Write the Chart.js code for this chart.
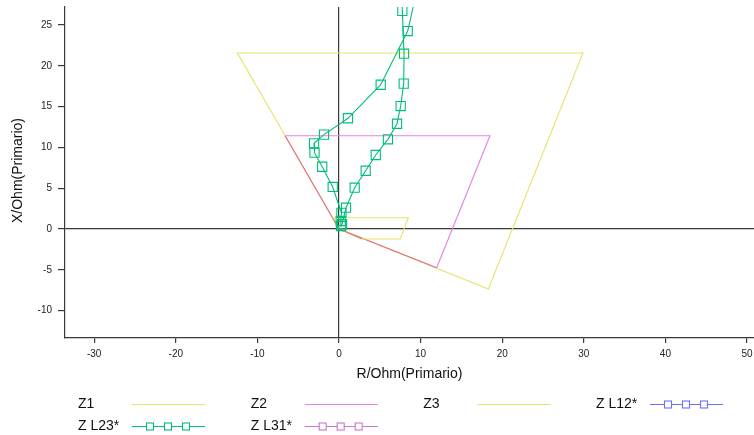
<!DOCTYPE html>
<html>
<head>
<meta charset="utf-8">
<script src="https://cdn.jsdelivr.net/npm/chart.js@4/dist/chart.umd.min.js"></script>
<style>
  html, body { margin: 0; padding: 0; background: #fff; }
  #wrap { width: 754px; height: 435px; }
</style>
</head>
<body>
<div id="wrap"><canvas id="c" width="754" height="435"></canvas></div>
<script>
// ---- Data (R / X in Ohm primary) ----
const z1R = [0, -0.8, 8.5, 7.5, 2.78, 0];
const z1X = [0, 1.38, 1.38, -1.22, -1.22, 0];

const z2R = [0, -6.6, 18.5, 11.97, 0];
const z2X = [0, 11.43, 11.43, -4.74, 0];

const z3R = [0, -12.45, 29.9, 18.3, 0];
const z3X = [0, 21.57, 21.57, -7.35, 0];

const l23R = [9.5, 8.42, 5.11, 1.10, -1.84, -3.06, -3.00, -2.06, -0.77, 0.30, 0.21, 0.25,
              0.37, 0.86, 1.92, 3.27, 4.50, 6.00, 7.11, 7.56, 7.93, 7.97, 7.76, 7.5];
const l23X = [29.0, 24.26, 17.68, 13.57, 11.56, 10.50, 9.35, 7.63, 5.15, 1.98, 0.98, 0.37,
              0.58, 2.61, 5.06, 7.14, 9.07, 10.99, 12.90, 15.07, 17.81, 21.48, 26.72, 31.5];

const l12R = [];
const l12X = [];
const l31R = [];
const l31X = [];

const seriesLabels = ['Z1', 'Z2', 'Z3', 'Z L12*', 'Z L23*', 'Z L31*'];
const xTickValues = [-30, -20, -10, 0, 10, 20, 30, 40, 50];
const yTickValues = [-10, -5, 0, 5, 10, 15, 20, 25];
const xTitle = 'R/Ohm(Primario)';
const yTitle = 'X/Ohm(Primario)';

const pts = (r, x) => r.map((v, i) => ({ x: v, y: x[i] }));

const YELLOW = 'rgb(232,226,104)';
const MAGENTA = 'rgb(232,128,232)';
const RED = 'rgb(226,104,140)';
const ORANGE = 'rgb(222,150,84)';
const BLUE = 'rgb(110,110,255)';
const GREEN = 'rgb(0,190,120)';
const PURPLE = 'rgb(200,120,200)';
const AXIS = '#3a3a3a';

const tickFont = { family: '"Liberation Sans Narrow", "Arial Narrow", "Liberation Sans", Arial, sans-serif', size: 10 };

const datasets = [
  { label: seriesLabels[0], data: pts(z1R, z1X), borderColor: YELLOW, order: 3,
    segment: { borderColor: c => (c.p0DataIndex === 0 || c.p0DataIndex === 4) ? ORANGE : YELLOW },
    legendKind: 'line' },
  { label: seriesLabels[1], data: pts(z2R, z2X), borderColor: MAGENTA, order: 4,
    segment: { borderColor: c => (c.p0DataIndex === 0 || c.p0DataIndex === 3) ? RED : MAGENTA },
    legendKind: 'line' },
  { label: seriesLabels[2], data: pts(z3R, z3X), borderColor: YELLOW, order: 5, legendKind: 'line' },
  { label: seriesLabels[3], data: pts(l12R, l12X), borderColor: BLUE, order: 2, pointStyle: 'rect',
    pointRadius: 6.5, legendKind: 'marker' },
  { label: seriesLabels[4], data: pts(l23R, l23X), borderColor: GREEN, order: 0, pointStyle: 'rect',
    pointRadius: 6.5, legendKind: 'marker' },
  { label: seriesLabels[5], data: pts(l31R, l31X), borderColor: PURPLE, order: 1, pointStyle: 'rect',
    pointRadius: 6.5, legendKind: 'marker' }
];
datasets.forEach(d => {
  d.showLine = true;
  d.borderWidth = 1.1;
  d.backgroundColor = 'rgba(0,0,0,0)';
  d.pointBorderColor = d.borderColor;
  d.pointBackgroundColor = 'rgba(255,255,255,0)';
  d.pointBorderWidth = 1.1;
  if (!d.pointRadius) d.pointRadius = 0;
  d.pointHoverRadius = d.pointRadius;
  d.tension = 0;
});

const decorPlugin = {
  id: 'decor',
  afterDraw(chart) {
    const ctx = chart.ctx;
    const area = chart.chartArea;
    ctx.save();
    // axis titles
    ctx.fillStyle = '#111';
    ctx.font = '14px "Liberation Sans", Arial, sans-serif';
    ctx.textAlign = 'center';
    ctx.textBaseline = 'middle';
    ctx.fillText(xTitle, (area.left + area.right) / 2, 374);
    ctx.save();
    ctx.translate(18.5, 170.5);
    ctx.rotate(-Math.PI / 2);
    ctx.fillText(yTitle, 0, 0);
    ctx.restore();

    // legend
    const colX = [78, 250.7, 423.3, 596];
    const rowY = [404, 426];
    ctx.textAlign = 'left';
    chart.data.datasets.forEach((d, i) => {
      const col = i % 4, row = Math.floor(i / 4);
      const x = colX[col], y = rowY[row];
      ctx.fillStyle = '#111';
      ctx.fillText(d.label, x, y);
      const lx0 = x + 54, lx1 = x + 127;
      ctx.strokeStyle = d.borderColor;
      ctx.lineWidth = 1.1;
      ctx.beginPath();
      ctx.moveTo(lx0, y + 0.5);
      ctx.lineTo(lx1, y + 0.5);
      ctx.stroke();
      if (d.legendKind === 'marker') {
        [18, 36, 54].forEach(o => {
          ctx.fillStyle = '#fff';
          ctx.fillRect(lx0 + o - 3.5, y - 3, 7, 7);
          ctx.strokeRect(lx0 + o - 3.5, y - 3, 7, 7);
        });
      }
    });
    ctx.restore();
  }
};

new Chart(document.getElementById('c'), {
  type: 'scatter',
  data: { datasets },
  plugins: [decorPlugin],
  options: {
    responsive: false,
    animation: false,
    devicePixelRatio: 1,
    layout: { autoPadding: false, padding: { top: 7, right: 0, bottom: 52, left: 0 } },
    plugins: { legend: { display: false }, tooltip: { enabled: false } },
    scales: {
      x: {
        type: 'linear',
        min: -(339 - 65) / 8.16,
        max: (754 - 339) / 8.16,
        afterFit: s => { s.height = 45; s.paddingLeft = 0; s.paddingRight = 0; },
        afterBuildTicks: s => { s.ticks = xTickValues.map(v => ({ value: v })); },
        ticks: { font: tickFont, color: '#222', padding: 5, maxRotation: 0, autoSkip: false, includeBounds: false },
        grid: {
          color: c => (c.tick && c.tick.value === 0) ? AXIS : 'rgba(0,0,0,0)',
          tickColor: AXIS, tickLength: 5, lineWidth: 1.2, drawOnChartArea: true
        },
        border: { display: true, color: AXIS, width: 1.2 }
      },
      y: {
        type: 'linear',
        min: -(338 - 229) / 8.16,
        max: (229 - 7) / 8.16,
        afterFit: s => { s.width = 65; s.paddingTop = 0; s.paddingBottom = 0; },
        afterBuildTicks: s => { s.ticks = yTickValues.map(v => ({ value: v })); },
        ticks: { font: tickFont, color: '#222', padding: 6, includeBounds: false },
        grid: {
          color: c => (c.tick && c.tick.value === 0) ? AXIS : 'rgba(0,0,0,0)',
          tickColor: AXIS, tickLength: 7, lineWidth: 1.2, drawOnChartArea: true
        },
        border: { display: true, color: AXIS, width: 1.2 }
      }
    }
  }
});
</script>
</body>
</html>
